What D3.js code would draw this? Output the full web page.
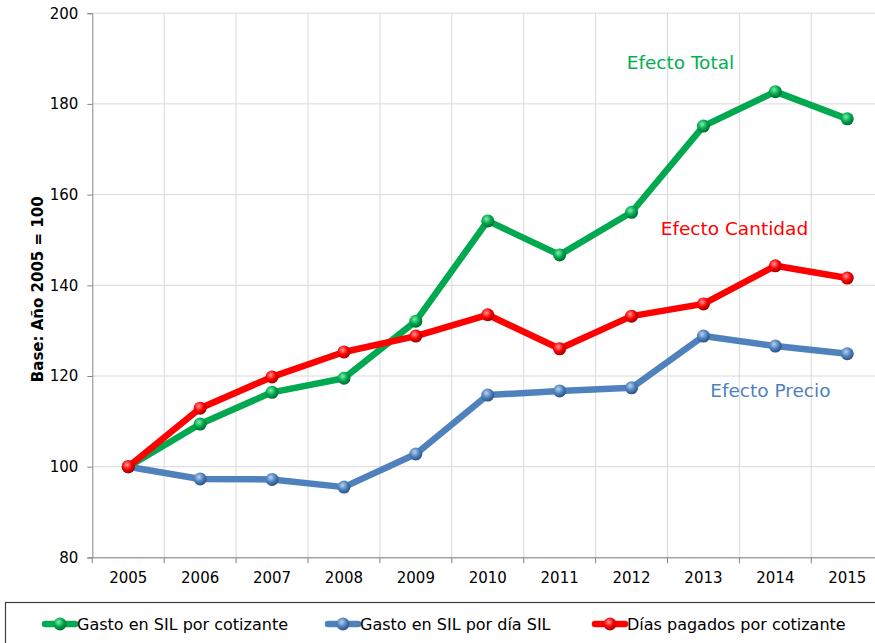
<!DOCTYPE html>
<html>
<head>
<meta charset="utf-8">
<script src="https://cdn.jsdelivr.net/npm/d3@7"></script>
<style>
  html, body { margin: 0; padding: 0; background: #fff; }
  svg { display: block; font-family: "DejaVu Sans", Verdana, sans-serif; }
</style>
</head>
<body>
<svg id="chart" width="875" height="643"></svg>
<script>
// Índices con base 2005 = 100
const years = ["2005","2006","2007","2008","2009","2010","2011","2012","2013","2014","2015"];
const gastoPorCotizante = [100, 109.4, 116.4, 119.5, 132.1, 154.2, 146.7, 156.1, 175.1, 182.7, 176.7];
const gastoPorDiaSIL    = [100, 97.3, 97.2, 95.5, 102.8, 115.8, 116.7, 117.4, 128.8, 126.6, 124.9];
const diasPorCotizante  = [100, 112.9, 119.8, 125.3, 128.8, 133.5, 126.0, 133.2, 135.9, 144.3, 141.6];
const yTicks = [80, 100, 120, 140, 160, 180, 200];

const seriesNames = ["Gasto en SIL por cotizante", "Gasto en SIL por día SIL", "Días pagados por cotizante"];
const seriesColors = ["#00a84f", "#4f81bd", "#ff0000"];
const seriesLight = ["#7cf0a8", "#b8d2f0", "#ff9a9a"];
const seriesDark = ["#006b30", "#2c5286", "#a00000"];

const annotations = [
  { text: "Efecto Total", color: "#00b050", year: "2013", value: 189.2, dx: -23 },
  { text: "Efecto Cantidad", color: "#ff0000", year: "2013", value: 152.6, dx: 31 },
  { text: "Efecto Precio", color: "#4f81bd", year: "2014", value: 116.7, dx: -5 }
];

const svg = d3.select("#chart");
const left = 92.3, bandW = 71.9;

const x = d3.scaleBand().domain(years).range([left, left + bandW * years.length]).padding(0);
const y = d3.scaleLinear().domain([80, 200]).range([557.4, 13.2]);

// Gradientes esféricos para los marcadores
const defs = svg.append("defs");
seriesColors.forEach((c, i) => {
  const g = defs.append("radialGradient").attr("id", "sph" + i)
    .attr("cx", "40%").attr("cy", "35%").attr("r", "65%");
  g.append("stop").attr("offset", "0%").attr("stop-color", seriesLight[i]);
  g.append("stop").attr("offset", "55%").attr("stop-color", c);
  g.append("stop").attr("offset", "100%").attr("stop-color", seriesDark[i]);
});

// Cuadrícula
const grid = svg.append("g");
grid.selectAll("line.h").data(yTicks).join("line")
  .attr("x1", left).attr("x2", 875)
  .attr("y1", d => y(d)).attr("y2", d => y(d))
  .attr("stroke", "#d9d9d9").attr("stroke-width", 1);
grid.selectAll("line.v").data(years.slice(1)).join("line")
  .attr("x1", d => x(d)).attr("x2", d => x(d))
  .attr("y1", y(200)).attr("y2", y(80))
  .attr("stroke", "#d9d9d9").attr("stroke-width", 1);

// Eje Y
const yAxis = svg.append("g").attr("transform", `translate(${left},0)`)
  .call(d3.axisLeft(y).tickValues(yTicks).tickSize(5).tickPadding(9));
yAxis.select(".domain").attr("stroke", "#868686");
yAxis.selectAll(".tick line").attr("stroke", "#868686");
yAxis.selectAll(".tick text").attr("font-size", 15).attr("fill", "#000")
  .attr("font-family", "DejaVu Sans, Verdana, sans-serif");

// Eje X
const xAxis = svg.append("g").attr("transform", `translate(0,${y(80)})`)
  .call(d3.axisBottom(x).tickSize(0).tickPadding(15));
xAxis.select(".domain").attr("stroke", "#868686");
xAxis.selectAll(".tick text").attr("font-size", 15).attr("fill", "#000")
  .attr("font-family", "DejaVu Sans, Verdana, sans-serif");
xAxis.selectAll("line.sep").data(years.slice(1)).join("line").attr("class", "sep")
  .attr("x1", d => x(d)).attr("x2", d => x(d))
  .attr("y1", 0).attr("y2", 6).attr("stroke", "#868686");
xAxis.append("line").attr("x1", left).attr("x2", left).attr("y1", 0).attr("y2", 6).attr("stroke", "#868686");

// Título del eje Y
svg.append("text")
  .attr("transform", `translate(43,${(y(200) + y(80)) / 2 + 4}) rotate(-90)`)
  .attr("text-anchor", "middle")
  .attr("font-size", 15).attr("font-weight", "bold").attr("fill", "#000")
  .text("Base: Año 2005 = 100");

// Series
const cx = d => x(d) + x.bandwidth() / 2;
const line = d3.line().x(d => cx(d.year)).y(d => y(d.value));
const allSeries = [gastoPorCotizante, gastoPorDiaSIL, diasPorCotizante];
const drawOrder = [1, 0, 2];
drawOrder.forEach(i => {
  const pts = years.map((yr, k) => ({ year: yr, value: allSeries[i][k] }));
  const g = svg.append("g");
  g.append("path").datum(pts).attr("d", line)
    .attr("fill", "none").attr("stroke", seriesColors[i])
    .attr("stroke-width", 6.5).attr("stroke-linejoin", "round");
  g.selectAll("circle").data(pts).join("circle")
    .attr("cx", d => cx(d.year)).attr("cy", d => y(d.value))
    .attr("r", 6.5).attr("fill", `url(#sph${i})`);
});

// Anotaciones
svg.selectAll("text.ann").data(annotations).join("text").attr("class", "ann")
  .attr("x", d => cx(d.year) + d.dx).attr("y", d => y(d.value))
  .attr("text-anchor", "middle").attr("dominant-baseline", "central")
  .attr("font-size", 18.5).attr("fill", d => d.color)
  .text(d => d.text);

// Leyenda
svg.append("rect").attr("x", 5.5).attr("y", 602.5).attr("width", 900).attr("height", 100)
  .attr("fill", "#fff").attr("stroke", "#404040").attr("stroke-width", 1.2);
const legendX = [45, 328, 595];
seriesNames.forEach((name, i) => {
  const g = svg.append("g").attr("transform", `translate(${legendX[i]},624)`);
  g.append("line").attr("x1", 0).attr("x2", 30).attr("y1", 0).attr("y2", 0)
    .attr("stroke", seriesColors[i]).attr("stroke-width", 6.5).attr("stroke-linecap", "round");
  g.append("circle").attr("cx", 15).attr("cy", 0).attr("r", 6.5).attr("fill", `url(#sph${i})`);
  g.append("text").attr("x", 32).attr("y", 0).attr("dominant-baseline", "central")
    .attr("font-size", 16).attr("fill", "#000").text(name);
});
</script>
</body>
</html>
